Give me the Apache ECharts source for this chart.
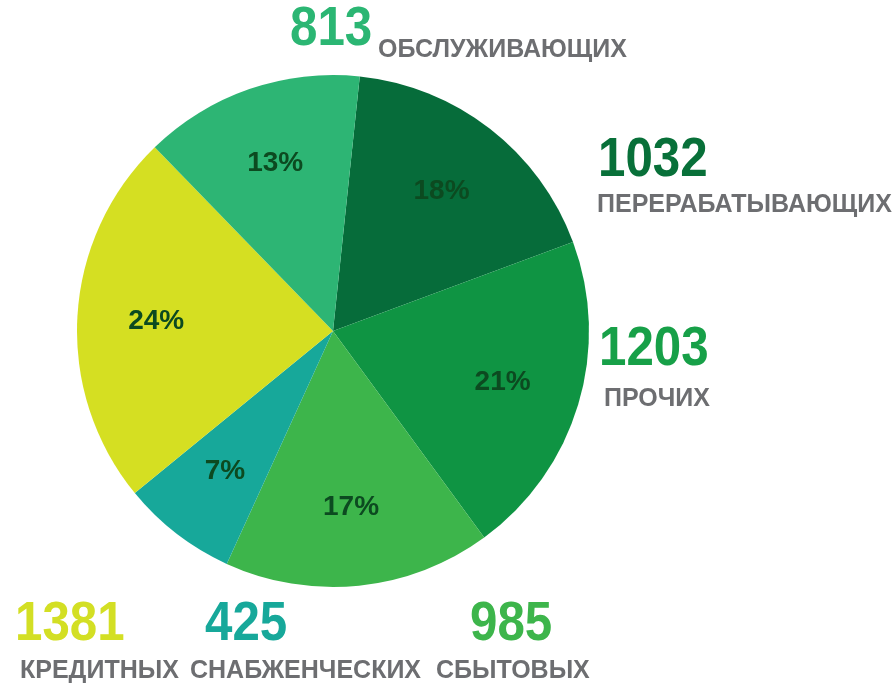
<!DOCTYPE html>
<html>
<head>
<meta charset="utf-8">
<script src="https://cdn.jsdelivr.net/npm/echarts@6/dist/echarts.min.js"></script>
<style>
html,body{margin:0;padding:0;background:#fff;}
#chart{width:896px;height:689px;}
</style>
</head>
<body>
<div id="chart"></div>
<script>
// Data (clockwise order starting near the top)
var categories = ['ПЕРЕРАБАТЫВАЮЩИХ', 'ПРОЧИХ', 'СБЫТОВЫХ', 'СНАБЖЕНЧЕСКИХ', 'КРЕДИТНЫХ', 'ОБСЛУЖИВАЮЩИХ'];
var values = [1032, 1203, 985, 425, 1381, 813];
var percents = [18, 21, 17, 7, 24, 13];
var colors = ['#066c3a', '#0f9443', '#3db54b', '#17a89a', '#d5df22', '#2db574'];
var numberColors = ['#087039', '#17a048', '#3db54b', '#17a89a', '#d3df24', '#2bb673'];

var chart = echarts.init(document.getElementById('chart'), null, {renderer: 'canvas'});

var center = [333, 331];
var R = 256;
var startAngle = 84;

var pieData = categories.map(function (c, i) {
  return {name: c, value: values[i], itemStyle: {color: colors[i]}};
});
var labelData = categories.map(function (c, i) {
  return {name: c, value: values[i], pct: percents[i]};
});

// outside label layout: [numberX, numberY, nameX, nameY]
var layout = {
  'ОБСЛУЖИВАЮЩИХ': [290, 30, 378, 50],
  'ПЕРЕРАБАТЫВАЮЩИХ': [598, 161, 597, 205],
  'ПРОЧИХ': [599, 350, 604, 399],
  'КРЕДИТНЫХ': [15, 625, 20, 671],
  'СНАБЖЕНЧЕСКИХ': [205, 625, 190, 671],
  'СБЫТОВЫХ': [470, 625, 436, 671]
};

var graphics = [];
categories.forEach(function (c, i) {
  var p = layout[c];
  graphics.push({
    type: 'text', x: p[0], y: p[1], scaleX: 0.88,
    style: {text: String(values[i]), fill: numberColors[i],
      font: 'bold 56px "Liberation Sans", Arial, sans-serif',
      textAlign: 'left', textVerticalAlign: 'middle'}
  });
  graphics.push({
    type: 'text', x: p[2], y: p[3],
    style: {text: c, fill: '#6d6e71',
      font: 'bold 25px "Liberation Sans", Arial, sans-serif',
      textAlign: 'left', textVerticalAlign: 'middle'}
  });
});

chart.setOption({
  backgroundColor: '#ffffff',
  animation: false,
  series: [
    {
      type: 'pie',
      center: center,
      radius: [0, R],
      startAngle: startAngle,
      clockwise: true,
      data: pieData,
      label: {show: false},
      labelLine: {show: false},
      itemStyle: {borderWidth: 0},
      emphasis: {disabled: true},
      silent: true
    },
    {
      type: 'pie',
      center: center,
      radius: [0, R * 1.36],
      startAngle: startAngle,
      clockwise: true,
      data: labelData,
      itemStyle: {color: 'rgba(0,0,0,0)'},
      label: {
        show: true,
        position: 'inside',
        formatter: function (p) { return p.data.pct + '%'; },
        color: '#0c4a20',
        fontFamily: '"Liberation Sans", Arial, sans-serif',
        fontWeight: 'bold',
        fontSize: 28,
        textBorderWidth: 0
      },
      labelLine: {show: false},
      emphasis: {disabled: true},
      silent: true,
      z: 3
    }
  ],
  graphic: graphics
});
</script>
</body>
</html>
